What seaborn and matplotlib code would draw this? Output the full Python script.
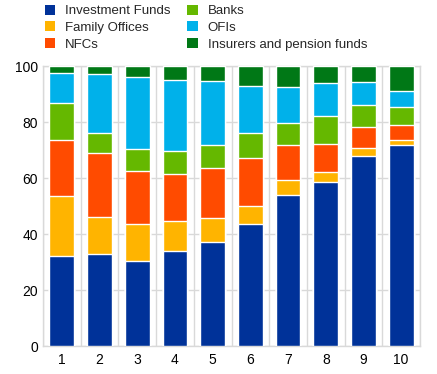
import numpy as np
import pandas as pd
import matplotlib
matplotlib.use("Agg")
import matplotlib.pyplot as plt
from matplotlib.patches import Patch
import seaborn as sns

# data (percent shares per bucket)
buckets = ["1", "2", "3", "4", "5", "6", "7", "8", "9", "10"]
investment_funds = [32.3, 33.0, 30.5, 34.1, 37.3, 43.7, 54.0, 58.7, 67.9, 71.8]
family_offices = [21.4, 13.2, 13.2, 10.7, 8.5, 6.4, 5.4, 3.6, 2.9, 1.8]
nfcs = [19.9, 22.8, 18.9, 16.8, 17.9, 17.1, 12.4, 9.9, 7.5, 5.4]
banks = [13.1, 7.1, 7.7, 8.1, 8.1, 8.9, 7.9, 10.0, 7.8, 6.4]
ofis = [10.8, 21.0, 25.8, 25.3, 22.8, 16.8, 12.8, 11.7, 8.2, 5.7]
insurers = [2.5, 2.9, 3.9, 5.0, 5.4, 7.1, 7.5, 6.1, 5.7, 8.9]

series = {
    "Investment Funds": investment_funds,
    "Family Offices": family_offices,
    "NFCs": nfcs,
    "Banks": banks,
    "OFIs": ofis,
    "Insurers and pension funds": insurers,
}
colors = {
    "Investment Funds": "#003299",
    "Family Offices": "#FFB400",
    "NFCs": "#FF4B00",
    "Banks": "#65B800",
    "OFIs": "#00B1EA",
    "Insurers and pension funds": "#007816",
}

df = pd.DataFrame(series, index=buckets)
cum = df.cumsum(axis=1)
# scale so each bar tops out at 100
cum = cum.div(cum.iloc[:, -1], axis=0) * 100
cum["bucket"] = buckets

sns.set_style("white")
plt.rcParams["font.family"] = ["Liberation Sans", "DejaVu Sans"]
plt.rcParams["font.size"] = 10

fig = plt.figure(figsize=(4.37, 3.74), dpi=100)
ax = fig.add_axes([43 / 437, 1 - 346 / 374, 377 / 437, 280 / 374])

# draw cumulative totals from the top down so lower series sit in front
for name in reversed(list(series.keys())):
    sns.barplot(data=cum, x="bucket", y=name, color=colors[name],
                width=0.66, saturation=1, ax=ax, zorder=3)

ax.set_xlim(-0.5, 9.5)
ax.set_ylim(0, 100)
ax.set_yticks(range(0, 101, 20))
ax.set_xlabel("")
ax.set_ylabel("")
ax.set_xticks(np.arange(-0.5, 10, 1), minor=True)
ax.grid(True, axis="y", which="major", color="#d9d9d9", lw=1, zorder=0)
ax.grid(True, axis="x", which="minor", color="#d9d9d9", lw=1, zorder=0)
ax.tick_params(axis="both", which="both", length=0, labelsize=10, colors="#000000")
ax.tick_params(axis="x", pad=5)
for s in ax.spines.values():
    s.set_color("#d9d9d9")
    s.set_linewidth(1)

handles = [Patch(facecolor=colors[n], edgecolor="none", label=n) for n in series]
fig.legend(handles=handles, loc="upper left",
           bbox_to_anchor=(33 / 437, 1.019), ncol=2, frameon=False,
           handlelength=0.8, handleheight=0.8, handletextpad=0.75,
           columnspacing=1.25, labelspacing=0.3, fontsize=9.5)

fig.savefig("out.png", dpi=100)
